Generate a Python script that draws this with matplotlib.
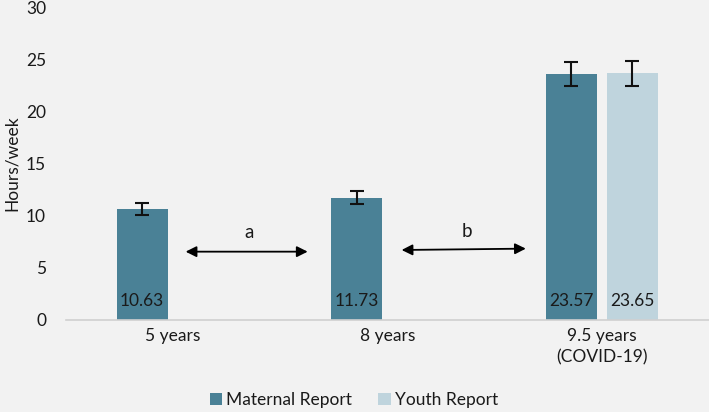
import matplotlib
matplotlib.use("Agg")
import matplotlib.pyplot as plt
import numpy as np

# data
categories = ["5 years", "8 years", "9.5 years\n(COVID-19)"]
maternal = [10.63, 11.73, 23.57]
maternal_err = [0.57, 0.6, 1.18]
youth = [np.nan, np.nan, 23.65]
youth_err = [0, 0, 1.18]
series_names = ["Maternal Report", "Youth Report"]
y_ticks = [0, 5, 10, 15, 20, 25, 30]

C_MAT = "#4a8196"
C_YOU = "#bfd4dd"
BG = "#f2f2f2"
FS = 12.5

plt.rcParams["font.family"] = ["Lato", "DejaVu Sans"]

fig = plt.figure(figsize=(7.09, 4.12), dpi=100, facecolor=BG)
ax = fig.add_axes([65.5 / 709, 92 / 412, (709 - 65.5) / 709, (320 - 7) / 412])
ax.set_facecolor(BG)

x = np.arange(len(categories))
w = 0.238
off = 0.1422

ax.bar(x - off, maternal, w, color=C_MAT, label=series_names[0], zorder=2)
ax.bar(x + off, youth, w, color=C_YOU, label=series_names[1], zorder=2)

# error bars
ax.errorbar(x - off, maternal, yerr=maternal_err, fmt="none", ecolor="#111111",
            elinewidth=1.5, capsize=5, capthick=1.5, zorder=3)
ok = ~np.isnan(youth)
ax.errorbar((x + off)[ok], np.array(youth)[ok], yerr=np.array(youth_err)[ok],
            fmt="none", ecolor="#111111", elinewidth=1.5, capsize=5, capthick=1.5, zorder=3)

# value labels at the bottom of the bars
for xi, v in zip(x - off, maternal):
    ax.text(xi, 1.8, f"{v:.2f}", ha="center", va="center", fontsize=FS, color="#1a1a1a", zorder=4)
for xi, v in zip(x + off, youth):
    if not np.isnan(v):
        ax.text(xi, 1.8, f"{v:.2f}", ha="center", va="center", fontsize=FS, color="#1a1a1a", zorder=4)

# comparison arrows
arrow_kw = dict(arrowstyle="<|-|>", color="black", lw=1.3, mutation_scale=16,
                shrinkA=0, shrinkB=0)
ax.annotate("", xy=(0.629, 6.55), xytext=(0.06, 6.55), arrowprops=arrow_kw)
ax.annotate("", xy=(1.646, 6.84), xytext=(1.067, 6.71), arrowprops=arrow_kw)
ax.text(0.354, 8.4, "a", ha="center", va="center", fontsize=13.5, color="#1a1a1a")
ax.text(1.371, 8.5, "b", ha="center", va="center", fontsize=13.5, color="#1a1a1a")

ax.set_xlim(-0.5, 2.5)
ax.set_ylim(0, 30)
ax.set_yticks(y_ticks)
ax.set_xticks(x)
ax.set_xticklabels(categories, fontsize=FS, color="#1a1a1a", linespacing=1.35)
ax.tick_params(axis="y", length=0, pad=14, labelsize=FS, labelcolor="#1a1a1a")
ax.tick_params(axis="x", length=0, pad=6)
for s in ["top", "right", "left"]:
    ax.spines[s].set_visible(False)
ax.spines["bottom"].set_color("#d0d0d0")
ax.spines["bottom"].set_linewidth(1.2)

ax.set_ylabel("Hours/week", fontsize=FS, color="#1a1a1a")
ax.yaxis.set_label_coords(-0.071, 0.5)

fig.legend(loc="center", bbox_to_anchor=(0.4993, 0.029), ncol=2, frameon=False,
           fontsize=FS, handlelength=0.7, handleheight=0.7, handletextpad=0.25,
           columnspacing=1.5, labelcolor="#1a1a1a")

fig.savefig("out.png", dpi=100, facecolor=BG)
